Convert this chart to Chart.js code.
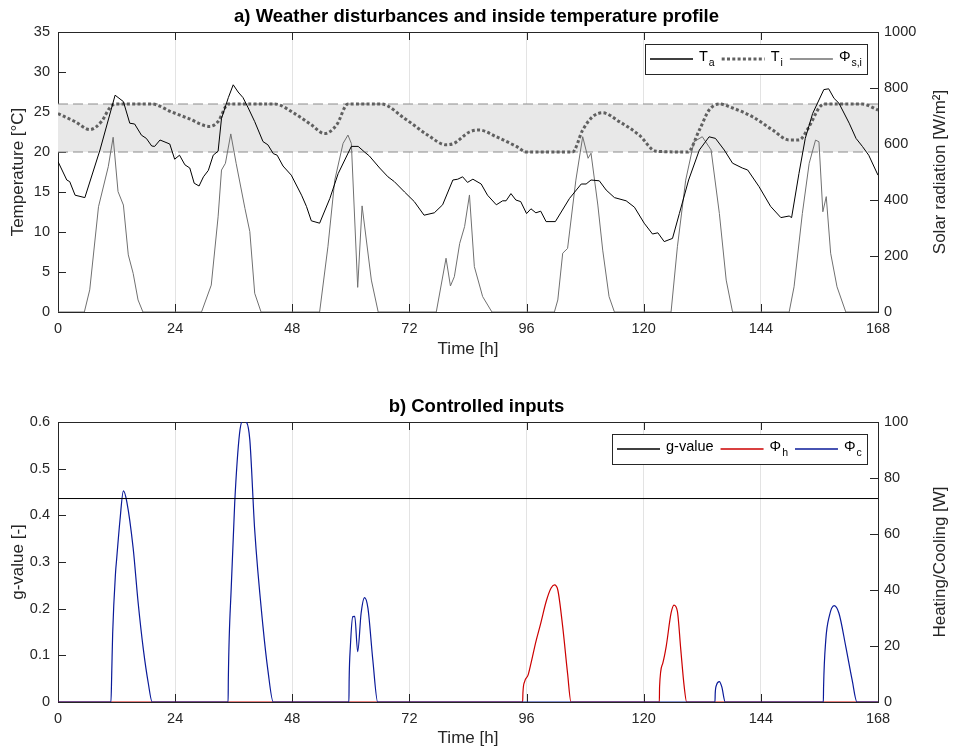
<!DOCTYPE html>
<html>
<head>
<meta charset="utf-8">
<script src="https://cdn.jsdelivr.net/npm/chart.js@4.4.0/dist/chart.umd.min.js"></script>
<style>
  body { margin: 0; background: #fff; }
  canvas { display: block; }
</style>
</head>
<body>
<canvas id="chart-a" width="953" height="390"></canvas>
<canvas id="chart-b" width="953" height="363"></canvas>
<script>
// ---- data (time in hours) ----
const xTicks = [0, 24, 48, 72, 96, 120, 144, 168];

// a) ambient temperature T_a [°C]
const taHours = [0, 1.8, 2.4, 3.5, 5.5, 8.6, 11.7, 13.4, 14.7, 15.7, 17.1, 18.1, 19.2, 19.8, 20.9, 22.9, 23.9, 24.9, 26, 27,
  27.9, 28.9, 29.8, 30.8, 31.8, 32.8, 33.5, 34.9, 35.9, 36.9, 37.9, 38.9, 40.3, 42, 43, 44.1, 44.9, 46.1, 47.8, 49.9,
  50.9, 51.9, 53.6, 55.7, 57.4, 60.1, 61.5, 62.8, 63.8, 65.9, 67.6, 68.9, 71, 73, 75, 77.1, 78.8, 80.9, 81.9, 82.9,
  83.9, 85, 86.7, 88, 89.8, 91.1, 91.8, 92.8, 93.8, 94.8, 96, 96.9, 97.9, 98.9, 100, 101.9, 104.8, 107.2, 108.2, 109.2,
  110.9, 112.3, 114, 116.4, 118.1, 120.1, 121.8, 122.9, 124.2, 125.9, 127.3, 129.2, 131.4, 133.4, 134.7, 136.5, 138.2, 140.2, 141.3, 143.6,
  146, 148.1, 149.8, 150.3, 151.8, 153.1, 154.6, 156.9, 157.9, 159, 160, 162.1, 163.5, 164.8, 166.1, 168];
const taValues = [18.8, 16.5, 16.3, 14.6, 14.3, 20.25, 27.1, 26.3, 23.6, 23.5, 22.1, 21.7, 20.75, 20.7, 21.5, 21, 19.1, 19.6, 18.4, 18,
  16.1, 15.75, 16.9, 17.7, 19.6, 20.1, 24.2, 26.8, 28.4, 27.5, 26.8, 25.6, 23.8, 21.3, 20.9, 19.8, 19.6, 18.25, 17.1, 14.6,
  13.2, 11.4, 11.1, 14.2, 17.3, 20.7, 20.7, 20, 19.5, 18, 16.9, 16.3, 15, 13.8, 12.1, 12.4, 13.4, 16.5, 16.6, 16.9,
  16.2, 16.6, 16, 14.6, 13.4, 13.9, 13.9, 14.8, 14, 13.8, 12.3, 12.9, 12.4, 12.6, 11.3, 11.3, 14.2, 16, 16, 16.5,
  16.4, 15.25, 14.3, 13.9, 13.1, 11.1, 9.75, 9.9, 8.8, 9.2, 12.3, 16.5, 20.25, 21.9, 21.7, 20.25, 18.6, 18, 17.75, 15.7,
  13.2, 11.8, 12, 11.8, 17.3, 21.7, 24.8, 27.8, 27.9, 26.7, 26.1, 23.6, 21.7, 20.7, 19.6, 17.1];

// a) inside temperature T_i [°C]
const tiHours = [0, 3.5, 6.5, 8.9, 10.6, 11.7, 19.2, 23.3, 26.7, 31.1, 32.8, 34.9, 44.4, 48.5, 51.9, 54.6, 57.1, 59.4, 66.2, 71,
  75.8, 79.5, 81.2, 84.3, 86.3, 89.8, 93.9, 96, 105.4, 107.5, 109.5, 111.6, 115, 119.1, 122.5, 129, 131.4, 133.4, 135.5, 138.2,
  142.3, 146.4, 149.8, 151.8, 153.9, 155.9, 156.9, 164.8, 168];
const tiValues = [24.8, 23.8, 22.8, 23.8, 25.5, 26, 26, 25, 24.2, 23.2, 23.8, 26, 26, 24.8, 23.4, 22.3, 23.4, 26, 26, 24.2,
  22.1, 20.9, 21.1, 22.5, 22.75, 21.9, 20.7, 20, 20, 22.75, 24.4, 24.9, 23.8, 22.1, 20.1, 20, 22.75, 25.25, 26, 25.5,
  24.4, 22.75, 21.5, 21.5, 23.2, 25.5, 26, 26, 25.25];

// a) solar radiation Phi_s,i [W/m2]
const solarHours = [0, 5.4, 6.5, 8.3, 10.3, 11.3, 12.3, 13.4, 14.4, 15.4, 16.4, 17.4, 29.4, 31.4, 32.8, 33.5, 34.3, 35.4, 36.5, 38.3,
  39.3, 40.3, 41.6, 53.6, 55.3, 56.7, 58.4, 59.4, 60.1, 61.4, 62.3, 64.2, 65.6, 77.5, 79.5, 80.4, 81.2, 82.3, 83.3, 84.3,
  85.3, 87, 88.9, 101.7, 102.4, 103.4, 104.4, 106.1, 107.5, 108.6, 109.2, 110.6, 111.6, 112.9, 114, 125.6, 126.9, 128.6, 130.3, 132,
  133.8, 135.5, 136.9, 138.2, 149.8, 150.8, 152.5, 153.9, 155.2, 155.9, 156.7, 157.4, 158.3, 159.6, 161.4, 168];
const solarValues = [0, 0, 79, 376, 519, 624, 430, 382, 204, 138, 43, 0, 0, 96, 340, 507, 531, 636, 531, 370,
  287, 67, 0, 0, 233, 471, 602, 632, 602, 88, 379, 114, 0, 0, 192, 93, 126, 245, 305, 418,
  162, 55, 0, 0, 43, 210, 227, 471, 626, 549, 567, 382, 221, 55, 0, 0, 233, 471, 608, 626,
  579, 352, 114, 0, 0, 90, 352, 531, 614, 608, 358, 412, 210, 90, 0, 0];

// comfort band [°C]
const comfortLow = 20;
const comfortHigh = 26;

// b) controlled inputs
const gValue = 0.436;
const heatHours = [0, 95.2, 95.25, 95.6, 96.3, 96.9, 97.9, 98.9, 100, 101, 101.7, 102.4, 103.4, 104.4, 105.1,
  123.2, 123.25, 123.9, 124.6, 125.6, 126.2, 126.9, 127.6, 128.3, 128.8, 168];
const heatValues = [0, 0, 3.1, 7.3, 9.6, 13.8, 21.5, 28.1, 35.8, 40.6, 41.8, 40, 26.9, 10.2, 0,
  0, 5.4, 13.8, 19.8, 31.7, 34.6, 32.4, 18.6, 5.4, 0, 0];
const coolHours = [0, 10.85, 11, 11.2, 11.8, 12, 12.7, 13.4, 14.1, 15.4, 16.4, 17.5, 18.5, 19.3,
  34.85, 34.9, 35.5, 36.2, 37.2, 37.9, 38.6, 39.3, 40.3, 42, 43, 44.1,
  59.6, 59.65, 59.9, 60.4, 60.8, 61.4, 62.1, 62.8, 63.5, 64.5, 65.5,
  134.6, 134.65, 134.9, 135.5, 136, 136.7,
  156.8, 156.85, 157.3, 158, 159, 160, 161.4, 162.7, 163.7, 168];
const coolValues = [0, 0, 9.6, 24.5, 46.5, 50.7, 65, 75.4, 71.5, 54.9, 35.8, 18.6, 6.7, 0,
  0, 8.5, 41.2, 71, 96, 100.5, 100, 93.6, 61.4, 26.9, 11.4, 0,
  0, 7.9, 19.8, 30.5, 30.6, 18, 31.7, 37.3, 33.5, 15, 0,
  0, 3, 6, 7.3, 5.4, 0,
  0, 5.4, 22.1, 30.5, 34.4, 31.7, 19.8, 7.9, 0, 0];

// ---- helpers ----
const FONT = "'Liberation Sans', Arial, Helvetica, sans-serif";
const INK = '#262626';
const TICK_LEN = 8;

function pts(xs, ys) {
  return xs.map((x, i) => ({ x: x, y: ys[i] }));
}

function tickText(v) {
  return String(+(+v).toFixed(3));
}

function drawLegend(ctx, a, chart, items) {
  const mainFont = '14.5px ' + FONT;
  const subFont = '10.5px ' + FONT;
  const sample = 43, pad = 5, gapText = 6, gapItem = 7, h = 30;
  let w = pad;
  items.forEach((it, i) => {
    ctx.font = mainFont;
    let tw = ctx.measureText(it.text).width;
    if (it.sub) { ctx.font = subFont; tw += ctx.measureText(it.sub).width + 1; }
    it.tw = tw;
    w += sample + gapText + tw + (i < items.length - 1 ? gapItem : pad);
  });
  w = Math.round(w);
  const x0 = Math.round(a.right - 11 - w);
  const y0 = Math.round(a.top + 12);
  ctx.save();
  ctx.fillStyle = '#fff';
  ctx.fillRect(x0, y0, w, h);
  ctx.strokeStyle = INK;
  ctx.lineWidth = 1;
  ctx.setLineDash([]);
  ctx.strokeRect(x0 + 0.5, y0 + 0.5, w, h);
  let x = x0 + pad;
  const cy = y0 + Math.round(h / 2);
  items.forEach(it => {
    const ds = chart.data.datasets[it.dataset];
    ctx.save();
    ctx.strokeStyle = ds.borderColor;
    ctx.lineWidth = ds.borderWidth >= 2 ? ds.borderWidth : 1.4;
    ctx.setLineDash(ds.borderDash || []);
    ctx.beginPath();
    ctx.moveTo(x, cy);
    ctx.lineTo(x + sample, cy);
    ctx.stroke();
    ctx.restore();
    x += sample + gapText;
    ctx.fillStyle = '#000';
    ctx.textAlign = 'left';
    ctx.textBaseline = 'middle';
    ctx.font = mainFont;
    ctx.fillText(it.text, x, cy - 2);
    if (it.sub) {
      const mw = ctx.measureText(it.text).width;
      ctx.font = subFont;
      ctx.fillText(it.sub, x + mw + 1, cy + 4);
    }
    x += it.tw + gapItem;
  });
  ctx.restore();
}

// frame and inward ticks under the data, right axis title and legend on top (MATLAB look)
const axesFrame = {
  id: 'axesFrame',
  beforeDatasetsDraw(chart) {
    const { ctx, chartArea: a, scales } = chart;
    ctx.save();
    ctx.strokeStyle = INK;
    ctx.lineWidth = 1;
    ctx.beginPath();
    scales.x.ticks.forEach(t => {
      const px = Math.round(scales.x.getPixelForValue(t.value)) + 0.5;
      ctx.moveTo(px, a.bottom);
      ctx.lineTo(px, a.bottom - TICK_LEN);
      ctx.moveTo(px, a.top);
      ctx.lineTo(px, a.top + TICK_LEN);
    });
    scales.y.ticks.forEach(t => {
      const py = Math.round(scales.y.getPixelForValue(t.value)) + 0.5;
      ctx.moveTo(a.left, py);
      ctx.lineTo(a.left + TICK_LEN, py);
    });
    scales.y2.ticks.forEach(t => {
      const py = Math.round(scales.y2.getPixelForValue(t.value)) + 0.5;
      ctx.moveTo(a.right, py);
      ctx.lineTo(a.right - TICK_LEN, py);
    });
    ctx.stroke();
    ctx.strokeRect(a.left + 0.5, a.top + 0.5, a.right - a.left, a.bottom - a.top);
    ctx.restore();
  },
  afterDraw(chart, args, opts) {
    const { ctx, chartArea: a } = chart;
    ctx.save();
    // right y-axis title, reading bottom to top
    ctx.translate(chart.width - 13, (a.top + a.bottom) / 2);
    ctx.rotate(-Math.PI / 2);
    ctx.textAlign = 'center';
    ctx.textBaseline = 'middle';
    ctx.font = '17px ' + FONT;
    ctx.fillStyle = INK;
    ctx.fillText(opts.rightTitle, 0, 0);
    ctx.restore();

    drawLegend(ctx, a, chart, opts.legend);
  }
};

function makeOptions(cfg) {
  return {
    responsive: false,
    animation: false,
    devicePixelRatio: 1,
    layout: { padding: 0 },
    elements: { point: { radius: 0 }, line: { tension: 0 } },
    plugins: {
      legend: { display: false },
      tooltip: { enabled: false },
      title: {
        display: true,
        text: cfg.title,
        color: '#000',
        font: { family: FONT, size: 18.5, weight: 'bold' },
        padding: { top: 6, bottom: 3.8 }
      },
      axesFrame: { rightTitle: cfg.rightTitle, legend: cfg.legend }
    },
    scales: {
      x: {
        type: 'linear',
        min: 0,
        max: 168,
        afterBuildTicks: s => { s.ticks = xTicks.map(v => ({ value: v })); },
        afterFit: s => { s.height = cfg.xHeight; },
        ticks: { color: INK, font: { family: FONT, size: 14.5 }, padding: 8, maxRotation: 0, autoSkip: false, callback: tickText },
        grid: { color: '#e3e3e3', drawTicks: false },
        border: { display: false },
        title: { display: true, text: 'Time [h]', color: INK, font: { family: FONT, size: 17 }, padding: { top: 0, bottom: cfg.xTitlePad } }
      },
      y: {
        position: 'left',
        min: cfg.yMin, max: cfg.yMax,
        afterFit: s => { s.width = 58; },
        ticks: { stepSize: cfg.yStep, color: INK, font: { family: FONT, size: 14.5 }, padding: 8, callback: tickText },
        grid: { display: false, drawTicks: false },
        border: { display: false },
        title: { display: true, text: cfg.leftTitle, color: INK, font: { family: FONT, size: 17 }, padding: { top: 8, bottom: 0 } }
      },
      y2: {
        position: 'right',
        min: cfg.y2Min, max: cfg.y2Max,
        afterFit: s => { s.width = 75; },
        ticks: { stepSize: cfg.y2Step, color: INK, font: { family: FONT, size: 14.5 }, padding: 6, callback: tickText },
        grid: { display: false, drawTicks: false },
        border: { display: false }
      }
    }
  };
}

// ---- a) weather disturbances ----
new Chart(document.getElementById('chart-a'), {
  type: 'line',
  data: {
    datasets: [
      { label: 'T_a', data: pts(taHours, taValues), yAxisID: 'y', borderColor: '#000', borderWidth: 1, order: 1 },
      { label: 'T_i', data: pts(tiHours, tiValues), yAxisID: 'y', borderColor: '#606060', borderWidth: 3,
        borderDash: [3, 2.3], cubicInterpolationMode: 'monotone', order: 2 },
      { label: 'Phi_s,i', data: pts(solarHours, solarValues), yAxisID: 'y2', borderColor: '#707070', borderWidth: 1, order: 3 },
      { label: 'upper', data: pts([0, 168], [comfortHigh, comfortHigh]), yAxisID: 'y', borderColor: '#8c8c8c', borderWidth: 1,
        borderDash: [10, 5], fill: { value: comfortLow }, backgroundColor: '#e8e8e8', order: 10 },
      { label: 'lower', data: pts([0, 168], [comfortLow, comfortLow]), yAxisID: 'y', borderColor: '#8c8c8c', borderWidth: 1,
        borderDash: [10, 5], order: 9 }
    ]
  },
  options: makeOptions({
    title: 'a) Weather disturbances and inside temperature profile',
    leftTitle: 'Temperature [°C]',
    rightTitle: 'Solar radiation [W/m²]',
    yMin: 0, yMax: 35, yStep: 5,
    y2Min: 0, y2Max: 1000, y2Step: 200,
    xHeight: 78, xTitlePad: 30.8,
    legend: [
      { dataset: 0, text: 'T', sub: 'a' },
      { dataset: 1, text: 'T', sub: 'i' },
      { dataset: 2, text: 'Φ', sub: 's,i' }
    ]
  }),
  plugins: [axesFrame]
});

// ---- b) controlled inputs ----
new Chart(document.getElementById('chart-b'), {
  type: 'line',
  data: {
    datasets: [
      { label: 'g-value', data: pts([0, 168], [gValue, gValue]), yAxisID: 'y', borderColor: '#000', borderWidth: 1, order: 0 },
      { label: 'Phi_h', data: pts(heatHours, heatValues), yAxisID: 'y2', borderColor: '#cc0000', borderWidth: 1.2,
        cubicInterpolationMode: 'monotone', order: 2 },
      { label: 'Phi_c', data: pts(coolHours, coolValues), yAxisID: 'y2', borderColor: '#0a1a99', borderWidth: 1.2,
        cubicInterpolationMode: 'monotone', order: 1 }
    ]
  },
  options: makeOptions({
    title: 'b) Controlled inputs',
    leftTitle: 'g-value [-]',
    rightTitle: 'Heating/Cooling [W]',
    yMin: 0, yMax: 0.6, yStep: 0.1,
    y2Min: 0, y2Max: 100, y2Step: 20,
    xHeight: 51, xTitlePad: 4.1,
    legend: [
      { dataset: 0, text: 'g-value' },
      { dataset: 1, text: 'Φ', sub: 'h' },
      { dataset: 2, text: 'Φ', sub: 'c' }
    ]
  }),
  plugins: [axesFrame]
});
</script>
</body>
</html>
